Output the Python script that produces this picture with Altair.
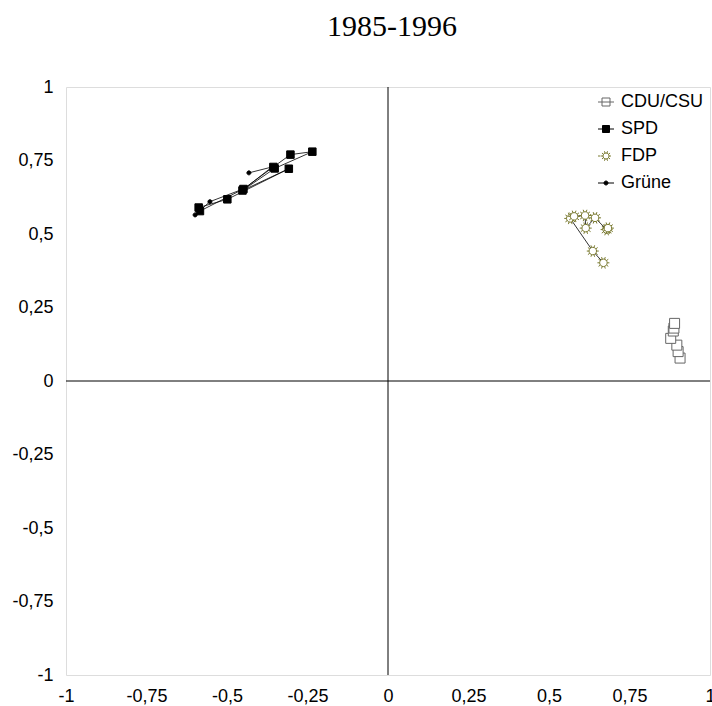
import math
import altair as alt
import pandas as pd

parties = ["CDU/CSU", "SPD", "FDP", "Grüne"]

cdu_x = [0.907, 0.901, 0.897, 0.878, 0.886, 0.888, 0.890]
cdu_y = [0.078, 0.100, 0.122, 0.145, 0.170, 0.180, 0.196]

spd_x = [-0.584, -0.449, -0.356, -0.303, -0.235, -0.352, -0.452, -0.308, -0.499, -0.588]
spd_y = [0.578, 0.653, 0.728, 0.770, 0.780, 0.723, 0.648, 0.722, 0.618, 0.590]

fdp_x = [0.669, 0.636, 0.566, 0.578, 0.612, 0.614, 0.643, 0.679, 0.683]
fdp_y = [0.402, 0.442, 0.553, 0.560, 0.563, 0.520, 0.555, 0.515, 0.520]

gruene_x = [-0.599, -0.553, -0.445, -0.360, -0.432]
gruene_y = [0.565, 0.610, 0.655, 0.728, 0.708]

tick_values = [-1, -0.75, -0.5, -0.25, 0, 0.25, 0.5, 0.75, 1]
title_text = "1985-1996"

rows = []
for name, xs, ys in [("CDU/CSU", cdu_x, cdu_y), ("SPD", spd_x, spd_y),
                     ("FDP", fdp_x, fdp_y), ("Grüne", gruene_x, gruene_y)]:
    for i, (a, b) in enumerate(zip(xs, ys)):
        rows.append({"party": name, "partei": name, "x": a, "y": b, "idx": i})
df = pd.DataFrame(rows)

# marker paths
def circle(r):
    return f"M{r},0A{r},{r} 0 1,1 {-r},0A{r},{r} 0 1,1 {r},0Z"

def sun(r_body, r_ray, n=10):
    p = circle(r_body)
    for k in range(n):
        a = 2 * math.pi * k / n
        p += f"M{r_body*math.cos(a):.3f},{r_body*math.sin(a):.3f}L{r_ray*math.cos(a):.3f},{r_ray*math.sin(a):.3f}"
    return p

def sq(h):
    return f"M{-h},{-h}H{h}V{h}H{-h}Z"

bar = "M-1.6,0H1.6"
point_shapes = [sq(1.0), sq(0.75), sun(0.75, 1.2), circle(0.4)]
legend_shapes = [bar + sq(0.8), bar + sq(0.7), "M-1.6,0H-1.1" + sun(0.6, 1.0), bar + circle(0.4)]
fills = ["white", "black", "white", "black"]
strokes = ["#666666", "black", "#7a7a30", "black"]

xscale = alt.Scale(domain=[-1, 1], nice=False, zero=False)
yscale = alt.Scale(domain=[-1, 1], nice=False, zero=False)
label_expr = "replace(toString(datum.value), '.', ',')"

xaxis = alt.Axis(values=tick_values, labelExpr=label_expr, title=None, grid=False,
                 ticks=False, domain=False, labelFont="Liberation Sans",
                 labelFontSize=18, labelColor="black", labelPadding=12,
                 labelFlush=False, labelOverlap=False)
yaxis = alt.Axis(values=tick_values, labelExpr=label_expr, title=None, grid=False,
                 ticks=False, domain=False, labelFont="Liberation Sans",
                 labelFontSize=18, labelColor="black", labelPadding=13,
                 labelFlush=False, labelOverlap=False)

legend_props = dict(orient="top-right", offset=6, title=None,
                    labelFont="Liberation Sans", labelFontSize=18,
                    labelColor="black", symbolSize=100, symbolStrokeWidth=1,
                    labelOffset=6, rowPadding=9, padding=0, symbolOpacity=1)

base = alt.Chart(df)

lines = base.mark_line(strokeWidth=0.8, color="black").encode(
    x=alt.X("x:Q", scale=xscale, axis=xaxis),
    y=alt.Y("y:Q", scale=yscale, axis=yaxis),
    detail="party:N",
    order="idx:Q",
)

zero_h = alt.Chart().mark_rule(color="black", strokeWidth=1).encode(y=alt.datum(0, scale=yscale))
zero_v = alt.Chart().mark_rule(color="black", strokeWidth=1).encode(x=alt.datum(0, scale=xscale))

points = base.mark_point(filled=True, size=100, strokeWidth=1, opacity=1).encode(
    x=alt.X("x:Q", scale=xscale),
    y=alt.Y("y:Q", scale=yscale),
    shape=alt.Shape("partei:N", scale=alt.Scale(domain=parties, range=point_shapes), legend=None),
    color=alt.Color("partei:N", scale=alt.Scale(domain=parties, range=fills), legend=None),
    stroke=alt.Stroke("partei:N", scale=alt.Scale(domain=parties, range=strokes), legend=None),
)

legend_layer = base.mark_point(filled=True, size=0, strokeWidth=1).encode(
    x=alt.X("x:Q", scale=xscale),
    y=alt.Y("y:Q", scale=yscale),
    shape=alt.Shape("party:N", scale=alt.Scale(domain=parties, range=legend_shapes),
                    legend=alt.Legend(**legend_props)),
    color=alt.Color("party:N", scale=alt.Scale(domain=parties, range=fills),
                    legend=alt.Legend(**legend_props)),
    stroke=alt.Stroke("party:N", scale=alt.Scale(domain=parties, range=strokes),
                      legend=alt.Legend(**legend_props)),
)

chart = alt.layer(lines, zero_h, zero_v, points, legend_layer).resolve_scale(
    shape="independent", color="independent", stroke="independent"
).properties(
    width=644,
    height=588,
    autosize=alt.AutoSizeParams(type="none"),
    padding={"left": 66, "top": 87, "right": 2, "bottom": 31},
    title=alt.TitleParams(title_text, font="Liberation Serif", fontSize=30,
                          fontWeight="normal", color="black", anchor="middle",
                          offset=36, dx=4),
).configure_view(stroke="black", strokeWidth=1).configure(background="white")

chart.save("out.html", embed_options={"renderer": "svg", "actions": False})
